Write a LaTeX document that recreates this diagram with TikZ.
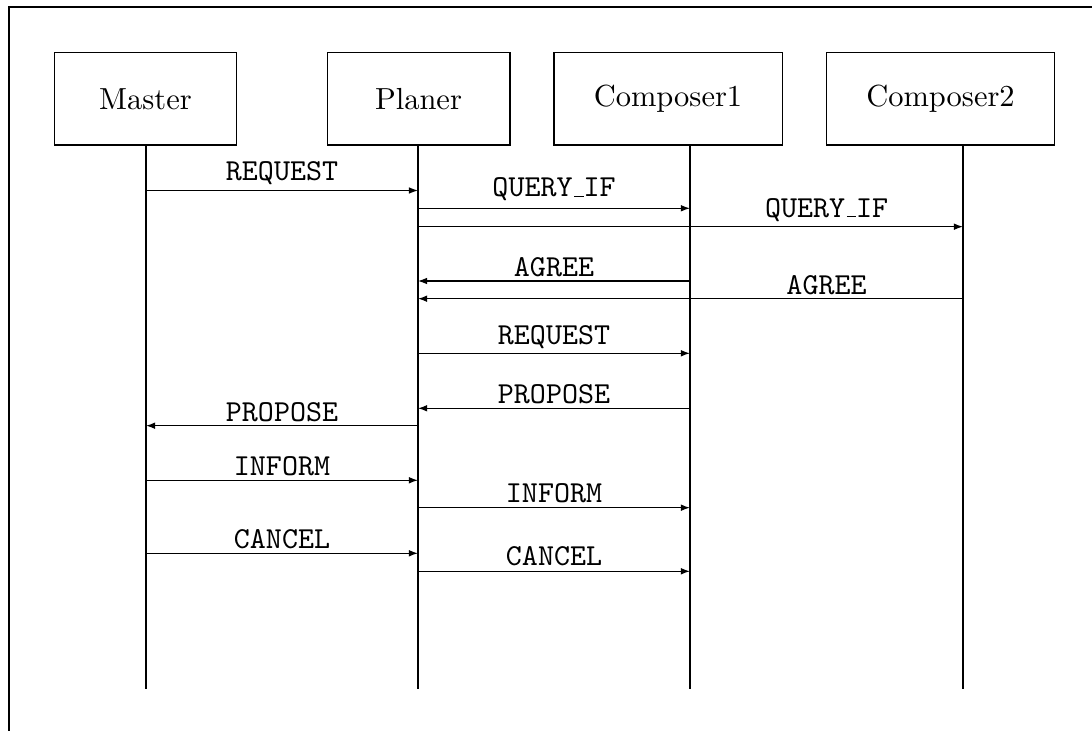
\documentclass[tikz,border=0pt]{standalone}
\usetikzlibrary{arrows.meta}
\newcommand{\myusc}{\leavevmode\kern.06em\vbox{\hrule width.3em height 0.4pt}}
\begin{document}
\begin{tikzpicture}[x=0.328pt,y=-0.328pt,
  actor/.style={draw,line width=0.35pt,inner sep=0pt,minimum height=30.2pt,font=\normalsize},
  life/.style={line width=0.65pt},
  msg/.style={line width=0.4pt,-{Latex[length=3pt,width=2.2pt]}},
  lbl/.style={anchor=base,inner sep=0pt,font=\ttfamily},
  frameline/.style={line width=0.65pt}]
\useasboundingbox (0,0) rectangle (1092,731);
% frame
\coordinate (f0) at (9,7);
\coordinate (f1) at (1092,7);
\coordinate (f2) at (9,731);
\draw[frameline] (f1) -- (f0) -- (f2);
% actors
\node[actor,minimum width=59.4pt] (M) at (145.5,99) {Master};
\node[actor,minimum width=60pt] (P) at (418.5,99) {Planer};
\node[actor,minimum width=74.8pt] (C1) at (668,99) {Composer1};
\node[actor,minimum width=74.5pt] (C2) at (940.5,99) {Composer2};
% lifelines
\coordinate (Mt) at (146,145);  \coordinate (Mb) at (146,689);
\coordinate (Pt) at (418,145);  \coordinate (Pb) at (418,689);
\coordinate (C1t) at (690,145); \coordinate (C1b) at (690,689);
\coordinate (C2t) at (963,145); \coordinate (C2b) at (963,689);
\draw[life] (Mt) -- (Mb);
\draw[life] (Pt) -- (Pb);
\draw[life] (C1t) -- (C1b);
\draw[life] (C2t) -- (C2b);
% messages
\draw[msg] (Mt |- 0,190.5) -- (Pt |- 0,190.5);
\node[lbl] (l1) at (282,180.7) {REQUEST};
\draw[msg] (Pt |- 0,208.3) -- (C1t |- 0,208.3);
\node[lbl] (l2) at (554,197) {QUERY\myusc IF};
\draw[msg] (Pt |- 0,226.7) -- (C2t |- 0,226.7);
\node[lbl] (l3) at (826.5,217.5) {QUERY\myusc IF};
\draw[msg] (C1t |- 0,281) -- (Pt |- 0,281);
\node[lbl] (l4) at (554,277) {AGREE};
\draw[msg] (C2t |- 0,298.7) -- (Pt |- 0,298.7);
\node[lbl] (l5) at (826.5,295) {AGREE};
\draw[msg] (Pt |- 0,353.3) -- (C1t |- 0,353.3);
\node[lbl] (l6) at (554,345) {REQUEST};
\draw[msg] (C1t |- 0,408.3) -- (Pt |- 0,408.3);
\node[lbl] (l7) at (554,403.3) {PROPOSE};
\draw[msg] (Pt |- 0,425.7) -- (Mt |- 0,425.7);
\node[lbl] (l8) at (282,421.7) {PROPOSE};
\draw[msg] (Mt |- 0,480.3) -- (Pt |- 0,480.3);
\node[lbl] (l9) at (282,476) {INFORM};
\draw[msg] (Pt |- 0,507.7) -- (C1t |- 0,507.7);
\node[lbl] (l10) at (554,502.7) {INFORM};
\draw[msg] (Mt |- 0,553.3) -- (Pt |- 0,553.3);
\node[lbl] (l11) at (282,548.3) {CANCEL};
\draw[msg] (Pt |- 0,571.3) -- (C1t |- 0,571.3);
\node[lbl] (l12) at (554,566) {CANCEL};
\end{tikzpicture}
\end{document}
